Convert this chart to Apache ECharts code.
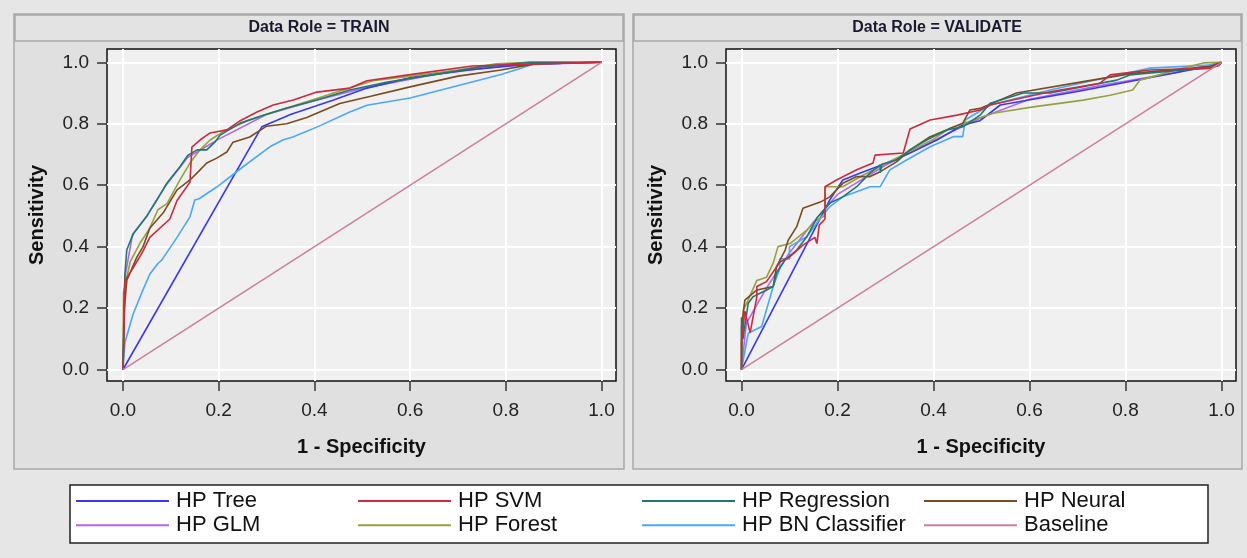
<!DOCTYPE html>
<html>
<head>
<meta charset="utf-8">
<script src="https://cdn.jsdelivr.net/npm/echarts@6/dist/echarts.min.js"></script>
<style>
html,body{margin:0;padding:0;background:#e6e6e6;}
#chart{width:1247px;height:558px;}
</style>
</head>
<body>
<div id="chart"></div>
<script>
// ---------- data ----------
const panelTitles = ['Data Role = TRAIN', 'Data Role = VALIDATE'];
const tickValues = [0, 0.2, 0.4, 0.6, 0.8, 1.0];
const seriesNames = ['HP Tree', 'HP SVM', 'HP Regression', 'HP Neural', 'HP GLM', 'HP Forest', 'HP BN Classifier', 'Baseline'];

const trainTree = [[0,0],[0.29,0.79],[0.35,0.83],[0.44,0.877],[0.51,0.916],[0.6,0.95],[0.72,0.975],[0.857,0.995],[1,1]];
const trainSVM = [[0,0],[0.002,0.1],[0.004,0.29],[0.021,0.33],[0.04,0.38],[0.056,0.43],[0.098,0.49],[0.113,0.55],[0.14,0.61],[0.144,0.724],[0.161,0.747],[0.182,0.77],[0.217,0.78],[0.245,0.81],[0.28,0.838],[0.314,0.861],[0.356,0.877],[0.405,0.903],[0.474,0.916],[0.51,0.94],[0.6,0.96],[0.73,0.988],[0.857,0.995],[1,1]];
const trainRegression = [[0,0],[0.002,0.2],[0.004,0.31],[0.008,0.39],[0.021,0.44],[0.05,0.5],[0.07,0.55],[0.092,0.607],[0.119,0.66],[0.136,0.698],[0.155,0.715],[0.175,0.715],[0.192,0.74],[0.203,0.763],[0.245,0.802],[0.293,0.828],[0.342,0.851],[0.405,0.877],[0.474,0.91],[0.55,0.935],[0.65,0.96],[0.75,0.985],[0.85,1],[1,1]];
const trainNeural = [[0,0],[0.003,0.2],[0.008,0.29],[0.029,0.366],[0.042,0.4],[0.056,0.46],[0.084,0.51],[0.113,0.585],[0.14,0.617],[0.155,0.64],[0.175,0.672],[0.196,0.688],[0.217,0.708],[0.23,0.74],[0.265,0.757],[0.3,0.792],[0.342,0.8],[0.384,0.82],[0.453,0.866],[0.52,0.89],[0.6,0.92],[0.7,0.955],[0.79,0.975],[0.86,0.995],[1,1]];
const trainGLM = [[0,0],[0.004,0.3],[0.02,0.44],[0.05,0.5],[0.09,0.6],[0.135,0.69],[0.2,0.75],[0.3,0.83],[0.4,0.875],[0.5,0.915],[0.65,0.96],[0.8,0.99],[1,1]];
const trainForest = [[0,0],[0.001,0.25],[0.015,0.35],[0.035,0.41],[0.056,0.46],[0.073,0.52],[0.092,0.54],[0.119,0.617],[0.14,0.672],[0.161,0.715],[0.182,0.747],[0.209,0.773],[0.26,0.81],[0.3,0.83],[0.4,0.88],[0.45,0.905],[0.523,0.94],[0.6,0.955],[0.7,0.975],[0.78,0.995],[0.85,1],[1,1]];
const trainBN = [[0,0],[0.004,0.087],[0.021,0.18],[0.042,0.26],[0.056,0.31],[0.073,0.345],[0.081,0.356],[0.113,0.43],[0.14,0.497],[0.15,0.552],[0.158,0.555],[0.196,0.594],[0.251,0.66],[0.307,0.725],[0.334,0.747],[0.355,0.757],[0.405,0.789],[0.474,0.838],[0.51,0.86],[0.6,0.884],[0.79,0.96],[0.83,0.98],[0.86,0.995],[1,1]];
const trainBaseline = [[0,0],[1,1]];

const valTree = [[0,0],[0.184,0.552],[0.211,0.617],[0.253,0.643],[0.303,0.672],[0.351,0.705],[0.407,0.747],[0.461,0.796],[0.497,0.81],[0.539,0.861],[0.7,0.905],[0.85,0.95],[0.997,0.994],[1,1]];
const valSVM = [[0,0],[0,0.087],[0.007,0.19],[0.018,0.12],[0.032,0.237],[0.032,0.27],[0.052,0.286],[0.08,0.35],[0.101,0.367],[0.128,0.405],[0.153,0.43],[0.157,0.41],[0.162,0.47],[0.174,0.49],[0.174,0.595],[0.198,0.617],[0.24,0.65],[0.274,0.672],[0.278,0.698],[0.337,0.705],[0.351,0.783],[0.393,0.812],[0.449,0.828],[0.497,0.845],[0.518,0.861],[0.643,0.904],[0.747,0.932],[0.768,0.959],[0.851,0.975],[0.976,0.981],[0.995,0.99],[1,1]];
const valRegression = [[0,0],[0,0.17],[0.003,0.1],[0.014,0.216],[0.024,0.237],[0.045,0.253],[0.066,0.27],[0.073,0.314],[0.091,0.357],[0.115,0.389],[0.136,0.432],[0.157,0.493],[0.184,0.542],[0.211,0.562],[0.24,0.595],[0.268,0.64],[0.289,0.666],[0.289,0.64],[0.292,0.668],[0.323,0.682],[0.351,0.715],[0.386,0.747],[0.428,0.78],[0.461,0.79],[0.497,0.828],[0.518,0.867],[0.587,0.9],[0.643,0.9],[0.782,0.942],[0.809,0.959],[0.92,0.975],[0.976,0.981],[0.99,0.99],[1,1]];
const valNeural = [[0,0],[0,0.14],[0.007,0.226],[0.032,0.259],[0.066,0.27],[0.073,0.335],[0.091,0.389],[0.097,0.42],[0.115,0.465],[0.128,0.525],[0.164,0.545],[0.184,0.562],[0.211,0.606],[0.24,0.628],[0.268,0.628],[0.289,0.644],[0.323,0.676],[0.351,0.715],[0.393,0.758],[0.461,0.802],[0.476,0.845],[0.497,0.85],[0.573,0.9],[0.712,0.937],[0.815,0.964],[0.976,0.986],[1,1]];
const valGLM = [[0,0],[0.01,0.15],[0.05,0.26],[0.1,0.38],[0.15,0.48],[0.2,0.57],[0.3,0.665],[0.4,0.745],[0.5,0.82],[0.6,0.88],[0.75,0.925],[0.9,0.965],[1,1]];
const valForest = [[0,0],[0.004,0.194],[0.011,0.216],[0.032,0.29],[0.052,0.3],[0.066,0.346],[0.076,0.4],[0.101,0.41],[0.136,0.454],[0.157,0.487],[0.174,0.5],[0.174,0.595],[0.211,0.595],[0.25,0.63],[0.3,0.67],[0.35,0.71],[0.4,0.75],[0.434,0.785],[0.524,0.834],[0.608,0.855],[0.712,0.877],[0.768,0.893],[0.815,0.91],[0.83,0.942],[0.92,0.981],[0.962,0.998],[1,1]];
const valBN = [[0,0],[0.014,0.118],[0.042,0.14],[0.066,0.27],[0.08,0.33],[0.08,0.36],[0.1,0.36],[0.1,0.4],[0.136,0.432],[0.164,0.492],[0.184,0.53],[0.211,0.562],[0.24,0.579],[0.268,0.595],[0.289,0.595],[0.309,0.65],[0.344,0.682],[0.393,0.725],[0.441,0.758],[0.461,0.758],[0.466,0.812],[0.518,0.861],[0.643,0.91],[0.768,0.953],[0.851,0.981],[0.976,0.991],[1,1]];
const valBaseline = [[0,0],[1,1]];

// ---------- styling ----------
const colors = {
  'HP Tree': '#3838f0',
  'HP SVM': '#cc2a40',
  'HP Regression': '#1e7a6e',
  'HP Neural': '#7a4c1e',
  'HP GLM': '#b466f0',
  'HP Forest': '#98a040',
  'HP BN Classifier': '#4aa8f8',
  'Baseline': '#cc7f9a'
};
const FONT = '"Liberation Sans", Arial, sans-serif';

const panelData = [
  {'HP Tree': trainTree, 'HP SVM': trainSVM, 'HP Regression': trainRegression, 'HP Neural': trainNeural,
   'HP GLM': trainGLM, 'HP Forest': trainForest, 'HP BN Classifier': trainBN, 'Baseline': trainBaseline},
  {'HP Tree': valTree, 'HP SVM': valSVM, 'HP Regression': valRegression, 'HP Neural': valNeural,
   'HP GLM': valGLM, 'HP Forest': valForest, 'HP BN Classifier': valBN, 'Baseline': valBaseline}
];
const drawOrder = ['HP GLM', 'HP Tree', 'HP BN Classifier', 'HP Forest', 'HP Neural', 'HP Regression', 'HP SVM', 'Baseline'];

const grids = [
  {left: 107, top: 49, width: 509, height: 332},
  {left: 726, top: 49, width: 510, height: 332}
];
const xRanges = [[-0.0334, 1.0303], [-0.0323, 1.0302]];
const yRange = [-0.0374, 1.0433];

const option = {
  backgroundColor: '#e6e6e6',
  animation: false,
  grid: grids.map(g => Object.assign({show: true, backgroundColor: '#f0f0f0', borderColor: '#111', borderWidth: 1.5, containLabel: false}, g)),
  xAxis: [0, 1].map(i => ({
    type: 'value', gridIndex: i, min: xRanges[i][0], max: xRanges[i][1], position: 'bottom',
    name: '1 - Specificity', nameLocation: 'middle', nameGap: 56,
    nameTextStyle: {fontFamily: FONT, fontSize: 20, fontWeight: 'bold', color: '#111'},
    axisLine: {show: false, onZero: false},
    axisTick: {show: true, inside: false, customValues: tickValues, length: 10, lineStyle: {color: '#333', width: 1.5}},
    axisLabel: {customValues: tickValues, margin: 20, fontFamily: FONT, fontSize: 19, color: '#222', formatter: v => v.toFixed(1)},
    splitLine: {show: true, lineStyle: {color: '#ffffff', width: 2}}
  })),
  yAxis: [0, 1].map(i => ({
    type: 'value', gridIndex: i, min: yRange[0], max: yRange[1], position: 'left',
    name: 'Sensitivity', nameLocation: 'middle', nameGap: 60,
    nameTextStyle: {fontFamily: FONT, fontSize: 20, fontWeight: 'bold', color: '#111'},
    axisLine: {show: false, onZero: false},
    axisTick: {show: true, inside: false, customValues: tickValues, length: 10, lineStyle: {color: '#333', width: 1.5}},
    axisLabel: {customValues: tickValues, margin: 18, fontFamily: FONT, fontSize: 19, color: '#222', formatter: v => v.toFixed(1)},
    splitLine: {show: true, lineStyle: {color: '#ffffff', width: 2}}
  })),
  legend: [
    ['HP Tree', 'HP GLM'], ['HP SVM', 'HP Forest'], ['HP Regression', 'HP BN Classifier'], ['HP Neural', 'Baseline']
  ].map((d, i) => ({
    data: d, orient: 'vertical', left: [76, 358, 642, 924][i], top: 490, padding: 0,
    itemWidth: 93, itemHeight: 2, itemGap: 2.2, icon: 'rect', selectedMode: false,
    textStyle: {fontFamily: FONT, fontSize: 22, color: '#111', lineHeight: 22, padding: [0, 0, 0, 2]}
  })),
  graphic: [
    {type: 'rect', z: -10, shape: {x: 14, y: 14, width: 610, height: 455}, style: {fill: '#e0e0e0', stroke: '#a8a8a8', lineWidth: 1.5}},
    {type: 'rect', z: -10, shape: {x: 633, y: 14, width: 609, height: 455}, style: {fill: '#e0e0e0', stroke: '#a8a8a8', lineWidth: 1.5}},
    {type: 'rect', z: -9, shape: {x: 15, y: 15, width: 608, height: 26}, style: {fill: '#e3e3e3', stroke: '#a8a8a8', lineWidth: 1.5}},
    {type: 'rect', z: -9, shape: {x: 634, y: 15, width: 607, height: 26}, style: {fill: '#e3e3e3', stroke: '#a8a8a8', lineWidth: 1.5}},
    {type: 'text', z: -8, x: 319, y: 28, style: {text: panelTitles[0], fontFamily: FONT, fontSize: 16, fontWeight: 'bold', fill: '#1a1a2e', align: 'center', verticalAlign: 'middle'}},
    {type: 'text', z: -8, x: 937, y: 28, style: {text: panelTitles[1], fontFamily: FONT, fontSize: 16, fontWeight: 'bold', fill: '#1a1a2e', align: 'center', verticalAlign: 'middle'}},
    {type: 'rect', z: 1, shape: {x: 70, y: 485, width: 1138, height: 58}, style: {fill: '#ffffff', stroke: '#222', lineWidth: 1.5}}
  ],
  series: []
};

[0, 1].forEach(p => {
  drawOrder.forEach(name => {
    option.series.push({
      type: 'line', name: name, xAxisIndex: p, yAxisIndex: p,
      data: panelData[p][name], showSymbol: false, symbol: 'none', smooth: false,
      color: colors[name],
      lineStyle: {color: colors[name], width: name === 'Baseline' ? 1.5 : 1.6},
      itemStyle: {color: colors[name]}
    });
  });
});

const chart = echarts.init(document.getElementById('chart'), null, {renderer: 'canvas'});
chart.setOption(option);
</script>
</body>
</html>
